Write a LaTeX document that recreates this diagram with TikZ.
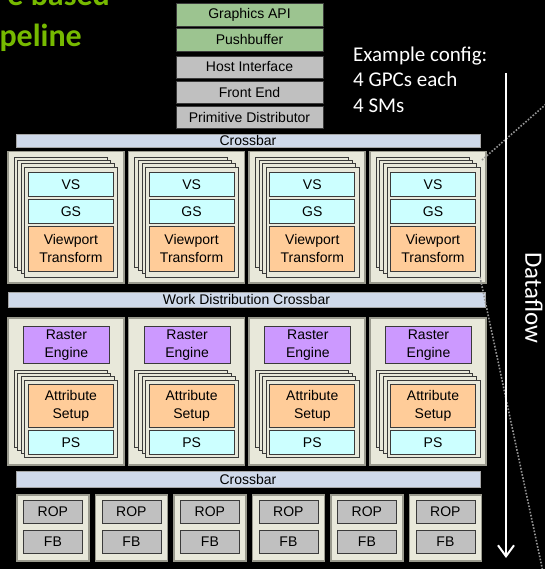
\documentclass[tikz,border=0pt]{standalone}
\usepackage{fontspec}
\setmainfont{Liberation Sans}
\newfontfamily\calibri{Carlito}
\usepackage{tikz}
\usetikzlibrary{arrows.meta}
\definecolor{nvgreen}{HTML}{76B900}
\definecolor{apigreen}{HTML}{9CC490}
\definecolor{unitgray}{HTML}{C0C0C0}
\definecolor{xbarblue}{HTML}{CFD9EA}
\definecolor{gpcbeige}{HTML}{E8E8DA}
\definecolor{gpcedge}{HTML}{9A9A8E}
\definecolor{shadecyan}{HTML}{CCFFFF}
\definecolor{vporange}{HTML}{FFCC99}
\definecolor{rastlilac}{HTML}{CC99FF}
\definecolor{edgedark}{HTML}{3A3A3A}

\begin{document}
\begin{tikzpicture}[x=1pt,y=-1pt,
  size/.style 2 args={minimum width=#1,minimum height=#2},
  unit/.style={draw=edgedark,line width=0.8pt,inner sep=0pt,align=center,
    font=\fontsize{14}{18}\selectfont},
  xbar/.style={unit,draw=gray!70,fill=xbarblue},
  gpc/.style={draw=gpcedge,fill=gpcbeige,line width=1.5pt,inner sep=0pt},
  layer/.style={draw=edgedark,fill=gpcbeige,line width=0.8pt},
  zoomline/.style={gray!85,line width=1.6pt,dash pattern=on 1.6pt off 1.6pt},
  title/.style={inner sep=0pt,text=nvgreen,font=\calibri\bfseries\fontsize{32}{39}\selectfont},
  note/.style={inner sep=0pt,text=white,font=\calibri\fontsize{21}{25}\selectfont}]
\fill[black] (0,0) rectangle (545,569);
\useasboundingbox (0,0) rectangle (545,569);
\clip (0,0) rectangle (545,569);
% title, cut off by the frame
\node[title,anchor=base east] (ttl1) at (110,6) {e based};
\node[title,anchor=base east] (ttl2) at (82,47) {peline};
% front of the pipe
\node[unit,fill=apigreen,size={147pt}{23pt}] (api) at (249.5,14.5) {Graphics API};
\node[unit,fill=apigreen,size={147pt}{23pt}] (push) at (249.5,39.5) {Pushbuffer};
\node[unit,fill=unitgray,size={147pt}{22pt}] (host) at (249.5,67) {Host Interface};
\node[unit,fill=unitgray,size={147pt}{22pt}] (front) at (249.5,92) {Front End};
\node[unit,fill=unitgray,size={147pt}{22pt}] (prim) at (249.5,117) {Primitive Distributor};
\node[xbar,size={464pt}{13pt}] (xbartop) at (248,140.5) {Crossbar};
% geometry and raster parts of the GPCs
\foreach \i in {0,...,3}{
  \pgfmathsetmacro\gx{7+120.7*\i}
  \node[gpc,anchor=north west,size={116pt}{131pt}] (geo\i) at (\gx,151) {};
  \foreach \k in {0,...,3}
    \draw[layer] ({\gx+7+3.6*\k},{157+3.4*\k}) rectangle ++(93,110);
  \node[unit,fill=shadecyan,anchor=north west,size={85pt}{24pt}] (vs\i) at (\gx+21,172) {VS};
  \node[unit,fill=shadecyan,anchor=north west,size={85pt}{24pt}] (gs\i) at (\gx+21,199) {GS};
  \node[unit,fill=vporange,anchor=north west,size={85pt}{45pt}] (vp\i) at (\gx+21,226) {Viewport\\Transform};
  \node[gpc,anchor=north west,size={116pt}{147pt}] (tpc\i) at (\gx,317) {};
  \node[unit,fill=rastlilac,anchor=north west,size={86pt}{37pt}] (rast\i) at (\gx+16,326) {Raster\\Engine};
  \foreach \k in {0,...,3}
    \draw[layer] ({\gx+7+3.6*\k},{370+3.4*\k}) rectangle ++(93,77);
  \node[unit,fill=vporange,anchor=north west,size={85pt}{43pt}] (attr\i) at (\gx+21,384) {Attribute\\Setup};
  \node[unit,fill=shadecyan,anchor=north west,size={85pt}{24pt}] (ps\i) at (\gx+21,430) {PS};
}
\node[xbar,size={477pt}{15pt}] (wdx) at (246.5,299.5) {Work Distribution Crossbar};
\node[xbar,size={464pt}{16pt}] (xbarbot) at (248,479) {Crossbar};
% memory partitions
\foreach \j in {0,...,5}{
  \pgfmathsetmacro\rx{16+78.5*\j}
  \node[gpc,anchor=north west,size={72pt}{66pt}] (part\j) at (\rx,494) {};
  \node[unit,fill=unitgray,anchor=north west,size={59pt}{23pt}] (rop\j) at (\rx+7,500) {ROP};
  \node[unit,fill=unitgray,anchor=north west,size={59pt}{23pt}] (fb\j) at (\rx+7,530) {FB};
}
% zoom lines and data flow
\coordinate (zoomA) at (482,160);
\coordinate (zoomB) at (552,99);
\coordinate (zoomC) at (480,277);
\coordinate (zoomD) at (543,572);
\draw[zoomline] (zoomA) -- (zoomB);
\draw[zoomline] (zoomC) -- (zoomD);
\coordinate (flowtop) at (506,73);
\coordinate (flowend) at (506,558);
\draw[white,line width=2pt,-{Straight Barb[length=11pt,width=16pt]}] (flowtop) -- (flowend);
\node[inner sep=0pt,text=white,rotate=-90,font=\calibri\fontsize{25}{30}\selectfont] (flow) at (534,298) {Dataflow};
\node[note,anchor=base west] (ex1) at (353,61.5) {Example config:};
\node[note,anchor=base west] (ex2) at (353,87) {4 GPCs each};
\node[note,anchor=base west] (ex3) at (353,112.5) {4 SMs};
\end{tikzpicture}
\end{document}
